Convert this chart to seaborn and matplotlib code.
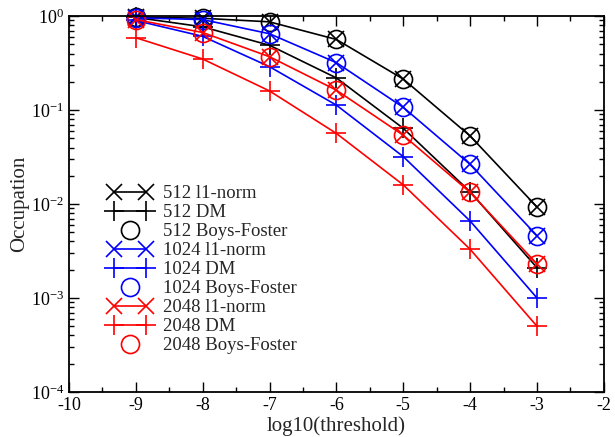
import pandas as pd
import numpy as np
import matplotlib
matplotlib.use("Agg")
import matplotlib.pyplot as plt
import seaborn as sns
from matplotlib.legend_handler import HandlerLine2D
from matplotlib.ticker import MultipleLocator, LogLocator, FixedFormatter, FixedLocator

# data
thresholds = [-9, -8, -7, -6, -5, -4, -3]

occ_512_l1 = [0.98, 0.95, 0.87, 0.565, 0.214, 0.053, 0.0093]
occ_512_dm = [0.97, 0.77, 0.49, 0.22, 0.064, 0.0135, 0.0021]
occ_512_bf = [0.98, 0.95, 0.87, 0.565, 0.214, 0.053, 0.0093]

occ_1024_l1 = [0.96, 0.92, 0.65, 0.32, 0.107, 0.0264, 0.0046]
occ_1024_dm = [0.90, 0.61, 0.29, 0.113, 0.032, 0.0066, 0.0010]
occ_1024_bf = [0.96, 0.92, 0.65, 0.32, 0.107, 0.0264, 0.0046]

occ_2048_l1 = [0.92, 0.67, 0.37, 0.163, 0.054, 0.0133, 0.0023]
occ_2048_dm = [0.59, 0.35, 0.16, 0.0565, 0.016, 0.0033, 0.0005]
occ_2048_bf = [0.92, 0.67, 0.37, 0.163, 0.054, 0.0133, 0.0023]

sizes = ['512', '1024', '2048']
colors = {'512': 'black', '1024': '#0000ff', '2048': '#ff0000'}
series = {
    '512': (occ_512_l1, occ_512_dm, occ_512_bf),
    '1024': (occ_1024_l1, occ_1024_dm, occ_1024_bf),
    '2048': (occ_2048_l1, occ_2048_dm, occ_2048_bf),
}

sns.set_theme(style="ticks")
plt.rcParams['font.family'] = ['Liberation Serif', 'DejaVu Serif']
plt.rcParams['mathtext.fontset'] = 'custom'
plt.rcParams['mathtext.rm'] = 'Liberation Serif'
plt.rcParams['mathtext.default'] = 'regular'
plt.rcParams['axes.unicode_minus'] = False

fig, ax = plt.subplots(figsize=(6.15, 4.37), dpi=100)
fig.subplots_adjust(left=0.112, right=0.982, top=0.963, bottom=0.103)

for n in sizes:
    l1, dm, bf = series[n]
    c = colors[n]
    df = pd.DataFrame({'x': thresholds, 'l1': l1, 'dm': dm, 'bf': bf})
    sns.lineplot(data=df, x='x', y='l1', ax=ax, color=c, marker='x', markersize=11,
                 markeredgecolor=c, markeredgewidth=1.2, linewidth=1.2,
                 clip_on=False, label=f'{n} l1-norm')
    sns.lineplot(data=df, x='x', y='dm', ax=ax, color=c, marker='+', markersize=14,
                 markeredgecolor=c, markeredgewidth=1.2, linewidth=1.2,
                 clip_on=False, label=f'{n} DM')
    sns.lineplot(data=df, x='x', y='bf', ax=ax, color=c, marker='o', markersize=13,
                 markerfacecolor='none', markeredgecolor=c, markeredgewidth=1.2,
                 linestyle='none', clip_on=False, label=f'{n} Boys-Foster')

ax.set_yscale('log')
ax.set_xlim(-10, -2)
ax.set_ylim(1e-4, 1)

ax.xaxis.set_major_locator(MultipleLocator(1))
ax.xaxis.set_minor_locator(MultipleLocator(0.5))
ax.yaxis.set_major_locator(FixedLocator([1e-4, 1e-3, 1e-2, 1e-1, 1]))
ax.yaxis.set_major_formatter(FixedFormatter(['$10^{-4}$', '$10^{-3}$', '$10^{-2}$',
                                             '$10^{-1}$', '$10^{0}$']))
ax.yaxis.set_minor_locator(LogLocator(base=10, subs=np.arange(2, 10), numticks=20))

ax.tick_params(which='both', direction='in', top=True, right=True, colors='black',
               labelsize=13)
ax.tick_params(which='major', length=7, width=1)
ax.tick_params(which='minor', length=3.5, width=1)
for s in ax.spines.values():
    s.set_linewidth(1.3)
    s.set_color('black')

ax.set_xlabel('log10(threshold)', fontsize=15, labelpad=2)
ax.set_ylabel('Occupation', fontsize=15, labelpad=1)

h, lab = ax.get_legend_handles_labels()
hmap = {hh: HandlerLine2D(numpoints=1) for hh, ll in zip(h, lab) if 'Boys' in ll}
ax.legend(h, lab, loc='upper left', bbox_to_anchor=(0.05, 0.585), frameon=False,
          numpoints=2, handlelength=2.3, handletextpad=0.6, labelspacing=0.1,
          fontsize=13.5, borderpad=0.2, handler_map=hmap)

plt.savefig('out.png', dpi=100)
